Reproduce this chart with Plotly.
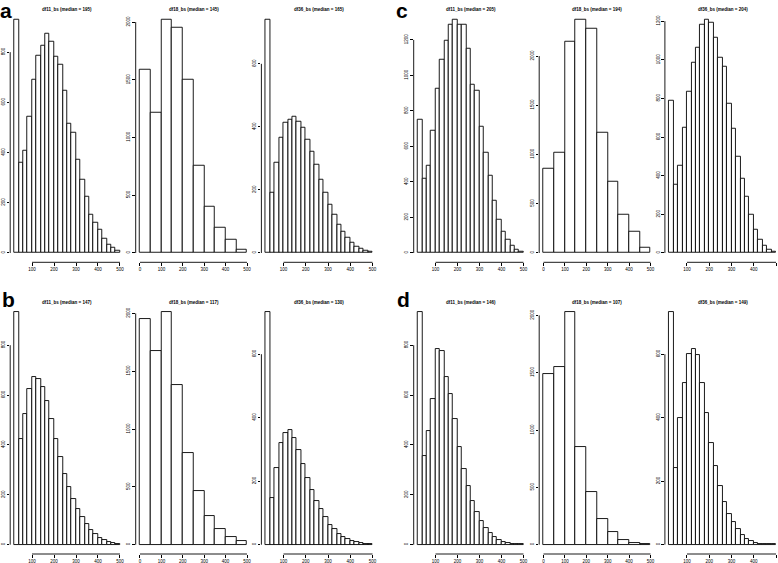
import plotly.graph_objects as go

W, H = 778, 563

# ---------------- data ----------------
BINS_A = [20, 40, 60, 80, 100, 120, 140, 160, 180, 200, 220, 240, 260, 280, 300,
          320, 340, 360, 380, 400, 420, 440, 460, 480]          # left edges, width 20
BINS_B = [0, 50, 100, 150, 200, 250, 300, 350, 400, 450]         # left edges, width 50
XTICKS_A = [100, 200, 300, 400, 500]
XTICKS_B = [0, 100, 200, 300, 400, 500]

titles = {
    "a": ["df11_bs (median = 195)", "df18_bs (median = 145)", "df36_bs (median = 165)"],
    "b": ["df11_bs (median = 147)", "df18_bs (median = 117)", "df36_bs (median = 130)"],
    "c": ["df11_bs (median = 205)", "df18_bs (median = 194)", "df36_bs (median = 204)"],
    "d": ["df11_bs (median = 146)", "df18_bs (median = 107)", "df36_bs (median = 149)"],
}

a1 = [928, 360, 408, 544, 692, 784, 824, 872, 840, 780, 752, 648, 516, 480, 372, 292, 224, 152, 120, 92, 56, 32, 20, 8]
a2 = [1592, 1218, 2018, 1949, 1505, 757, 400, 218, 113, 26]
a3 = [739, 190, 285, 365, 412, 422, 431, 418, 396, 358, 320, 279, 231, 190, 152, 120, 89, 67, 48, 32, 19, 13, 6, 3]

b1 = [932, 424, 524, 624, 672, 664, 632, 576, 504, 424, 352, 284, 232, 184, 144, 112, 84, 60, 44, 28, 20, 12, 8, 4]
b2 = [1949, 1679, 2010, 1383, 792, 461, 252, 139, 70, 35]
b3 = [732, 146, 241, 320, 352, 361, 336, 298, 254, 209, 171, 139, 111, 86, 63, 48, 35, 25, 19, 13, 10, 6, 3, 3]

c1 = [750, 420, 494, 687, 926, 1091, 1193, 1284, 1312, 1284, 1284, 1153, 949, 915, 710, 562, 437, 295, 187, 119, 74, 40, 17, 6]
c2 = [857, 1020, 2142, 2366, 2275, 1224, 724, 388, 214, 51]
c3 = [788, 355, 454, 647, 835, 987, 1065, 1180, 1206, 1190, 1117, 1013, 966, 773, 642, 496, 386, 292, 198, 120, 68, 37, 16, 5]

d1 = [932, 356, 456, 584, 784, 776, 672, 604, 504, 392, 304, 236, 176, 132, 96, 68, 48, 32, 20, 12, 8, 4, 4, 2]
d2 = [1488, 1549, 2027, 853, 461, 226, 113, 44, 17, 9]
d3 = [732, 241, 399, 510, 602, 615, 596, 510, 415, 320, 247, 184, 136, 98, 70, 48, 32, 19, 13, 6, 3, 3, 1, 1]

counts = {"a": [a1, a2, a3], "b": [b1, b2, b3], "c": [c1, c2, c3], "d": [d1, d2, d3]}
ytick_step = {"a": [200, 500, 200], "b": [200, 500, 200], "c": [200, 500, 200], "d": [200, 500, 200]}

# ---------------- layout geometry (pixels) ----------------
col_px = [(10.2, 124.2), (135.7, 251.3), (261.4, 376.8)]
panel_dx = {"a": 0, "b": 0, "c": 403.5, "d": 403.5}
row_px = {"a": (10.7, 262.3), "c": (10.7, 262.3), "b": (303.0, 554.0), "d": (303.0, 554.0)}
letter_pos = {"a": (-2, -3), "b": (0, 286), "c": (394, -3), "d": (395, 286)}

FONT = "Liberation Sans, Arial, sans-serif"

fig = go.Figure()
layout = dict(width=W, height=H, margin=dict(l=0, r=0, t=0, b=0),
              paper_bgcolor="white", plot_bgcolor="white", showlegend=False,
              font=dict(family=FONT, color="black"))
shapes, annotations = [], []

k = 0
for p in ["a", "b", "c", "d"]:
    for j in range(3):
        k += 1
        xa = "x" if k == 1 else f"x{k}"
        ya = "y" if k == 1 else f"y{k}"
        xkey = "xaxis" if k == 1 else f"xaxis{k}"
        ykey = "yaxis" if k == 1 else f"yaxis{k}"
        if j == 1:
            edges, bw, xt = BINS_B, 50, XTICKS_B
        else:
            edges, bw, xt = BINS_A, 20, XTICKS_A
        vals = counts[p][j]
        lo, hi = edges[0], edges[-1] + bw
        xr = [lo - 0.04 * (hi - lo), hi + 0.04 * (hi - lo)]
        x0p, x1p = col_px[j][0] + panel_dx[p], col_px[j][1] + panel_dx[p]
        if x1p > W:  # keep the scale, clip the plotting region at the page edge
            ppu = (x1p - x0p) / (xr[1] - xr[0])
            xr[1] = xr[0] + (W - x0p) / ppu
            x1p = W
        m = max(vals)
        yr = [-0.04 * m, 1.04 * m]
        step = ytick_step[p][j]
        yt = [v for v in range(0, int(1.04 * m) + 1, step)]

        fig.add_trace(go.Bar(
            x=[e + bw / 2 for e in edges], y=vals, width=bw,
            marker=dict(color="white", line=dict(color="black", width=0.9)),
            xaxis=xa, yaxis=ya, hoverinfo="x+y"))

        y0p, y1p = row_px[p]
        layout[xkey] = dict(domain=[x0p / W, x1p / W], range=xr, anchor=ya,
                            tickvals=xt, ticktext=[str(v) for v in xt],
                            ticks="outside", ticklen=2.5, tickwidth=0.8, tickcolor="black",
                            showline=False, showgrid=False, zeroline=False,
                            tickfont=dict(size=4.5, family=FONT, color="black"))
        layout[ykey] = dict(domain=[1 - y1p / H, 1 - y0p / H], range=yr, anchor=xa,
                            tickvals=yt, ticktext=[str(v) for v in yt],
                            ticks="outside", ticklen=2.5, tickwidth=0.8, tickcolor="black",
                            tickangle=-90,
                            showline=False, showgrid=False, zeroline=False,
                            tickfont=dict(size=4.5, family=FONT, color="black"))
        # R-style axis lines spanning first to last tick
        shapes.append(dict(type="line", xref=xa, yref=f"{ya} domain",
                           x0=xt[0], x1=xt[-1], y0=0, y1=0,
                           line=dict(color="black", width=0.9)))
        shapes.append(dict(type="line", xref=f"{xa} domain", yref=ya,
                           x0=0, x1=0, y0=yt[0], y1=yt[-1],
                           line=dict(color="black", width=0.9)))
        annotations.append(dict(text="<b>" + titles[p][j] + "</b>", xref="paper", yref="paper",
                                x=(col_px[j][0] + col_px[j][1]) / 2 / W + panel_dx[p] / W,
                                y=1 - (y0p - 1) / H,
                                xanchor="center", yanchor="middle", showarrow=False,
                                font=dict(size=4.5, family=FONT, color="black")))

for p, (lx, ly) in letter_pos.items():
    annotations.append(dict(text="<b>" + p + "</b>", xref="paper", yref="paper",
                            x=lx / W, y=1 - ly / H, xanchor="left", yanchor="top",
                            showarrow=False, font=dict(size=21, family=FONT, color="black")))

layout["shapes"] = shapes
layout["annotations"] = annotations
layout["bargap"] = 0
fig.update_layout(**layout)
fig.write_html("out.html", config={"displayModeBar": False},
               post_script="document.body.style.margin='0';document.body.style.overflow='hidden';")
